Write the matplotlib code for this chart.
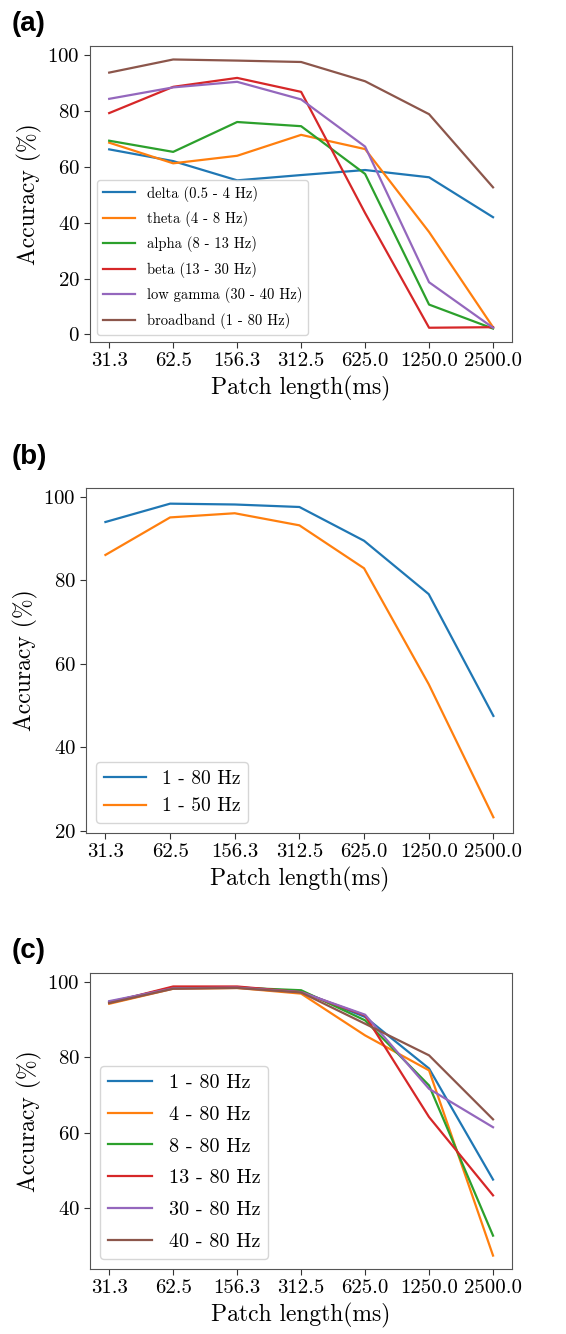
import matplotlib
matplotlib.use("Agg")
import matplotlib.pyplot as plt

plt.rcParams["font.family"] = "serif"
plt.rcParams["font.serif"] = ["cmr10"]
plt.rcParams["mathtext.fontset"] = "cm"
plt.rcParams["axes.formatter.use_mathtext"] = True
plt.rcParams["axes.unicode_minus"] = False

patch_labels = ["31.3", "62.5", "156.3", "312.5", "625.0", "1250.0", "2500.0"]

# panel (a): single bands
band_names = ["delta (0.5 - 4 Hz)", "theta (4 - 8 Hz)", "alpha (8 - 13 Hz)",
              "beta (13 - 30 Hz)", "low gamma (30 - 40 Hz)", "broadband (1 - 80 Hz)"]
delta = [66.3, 62.1, 55.2, 57.1, 58.9, 56.3, 42.0]
theta = [68.7, 61.3, 64.0, 71.5, 66.4, 36.7, 2.6]
alpha = [69.4, 65.4, 76.1, 74.6, 57.5, 10.7, 2.1]
beta = [79.3, 88.7, 91.9, 86.9, 43.5, 2.4, 2.6]
low_gamma = [84.4, 88.5, 90.5, 84.2, 67.3, 18.7, 2.4]
broadband = [93.8, 98.5, 98.1, 97.6, 90.7, 78.9, 52.7]

# panel (b): upper cutoff
cut_names = ["1 - 80 Hz", "1 - 50 Hz"]
hz_1_80 = [94.0, 98.4, 98.2, 97.6, 89.5, 76.7, 47.5]
hz_1_50 = [86.1, 95.1, 96.1, 93.2, 82.9, 55.1, 23.2]

# panel (c): lower cutoff
low_names = ["1 - 80 Hz", "4 - 80 Hz", "8 - 80 Hz", "13 - 80 Hz", "30 - 80 Hz", "40 - 80 Hz"]
c_1_80 = [94.7, 98.4, 98.6, 97.5, 90.7, 77.0, 47.5]
c_4_80 = [94.2, 98.2, 98.4, 96.9, 85.8, 76.5, 27.3]
c_8_80 = [94.5, 98.6, 98.5, 97.8, 89.8, 72.5, 32.6]
c_13_80 = [94.5, 98.8, 98.8, 97.3, 91.1, 64.1, 43.3]
c_30_80 = [94.9, 98.3, 98.5, 97.3, 91.3, 71.6, 61.4]
c_40_80 = [94.4, 98.2, 98.4, 97.2, 88.9, 80.5, 63.5]

fig = plt.figure(figsize=(5.66, 13.34), dpi=100)

panels = [
    ("(a)", [0.159, 0.7436, 0.746, 0.2219], band_names,
     [delta, theta, alpha, beta, low_gamma, broadband], 10.5, 0.65, [0, 20, 40, 60, 80, 100]),
    ("(b)", [0.152, 0.3756, 0.754, 0.2586], cut_names,
     [hz_1_80, hz_1_50], 14, 0.5, [20, 40, 60, 80, 100]),
    ("(c)", [0.159, 0.0487, 0.746, 0.2219], low_names,
     [c_1_80, c_4_80, c_8_80, c_13_80, c_30_80, c_40_80], 14.5, 0.68, [40, 60, 80, 100]),
]
label_y = [0.992, 0.667, 0.297]

for (tag, rect, names, series, leg_size, spacing, yticks), ly in zip(panels, label_y):
    ax = fig.add_axes(rect)
    x = list(range(len(patch_labels)))
    for name, vals in zip(names, series):
        ax.plot(x, vals, lw=1.6, label=name)
    ax.set_xticks(x)
    ax.set_xticklabels(patch_labels)
    ax.set_yticks(yticks)
    ax.tick_params(labelsize=15, color="#333333", length=4)
    for s in ax.spines.values():
        s.set_color("#555555")
    ax.set_xlabel("Patch length(ms)", fontsize=17)
    ax.set_ylabel("Accuracy (%)", fontsize=17)
    ax.legend(loc="lower left", fontsize=leg_size, handlelength=2.2, labelspacing=spacing)
    fig.text(0.02, ly, tag, fontsize=20, fontweight="bold",
             family="Liberation Sans", va="top", ha="left")

fig.savefig("out.png", dpi=100)
